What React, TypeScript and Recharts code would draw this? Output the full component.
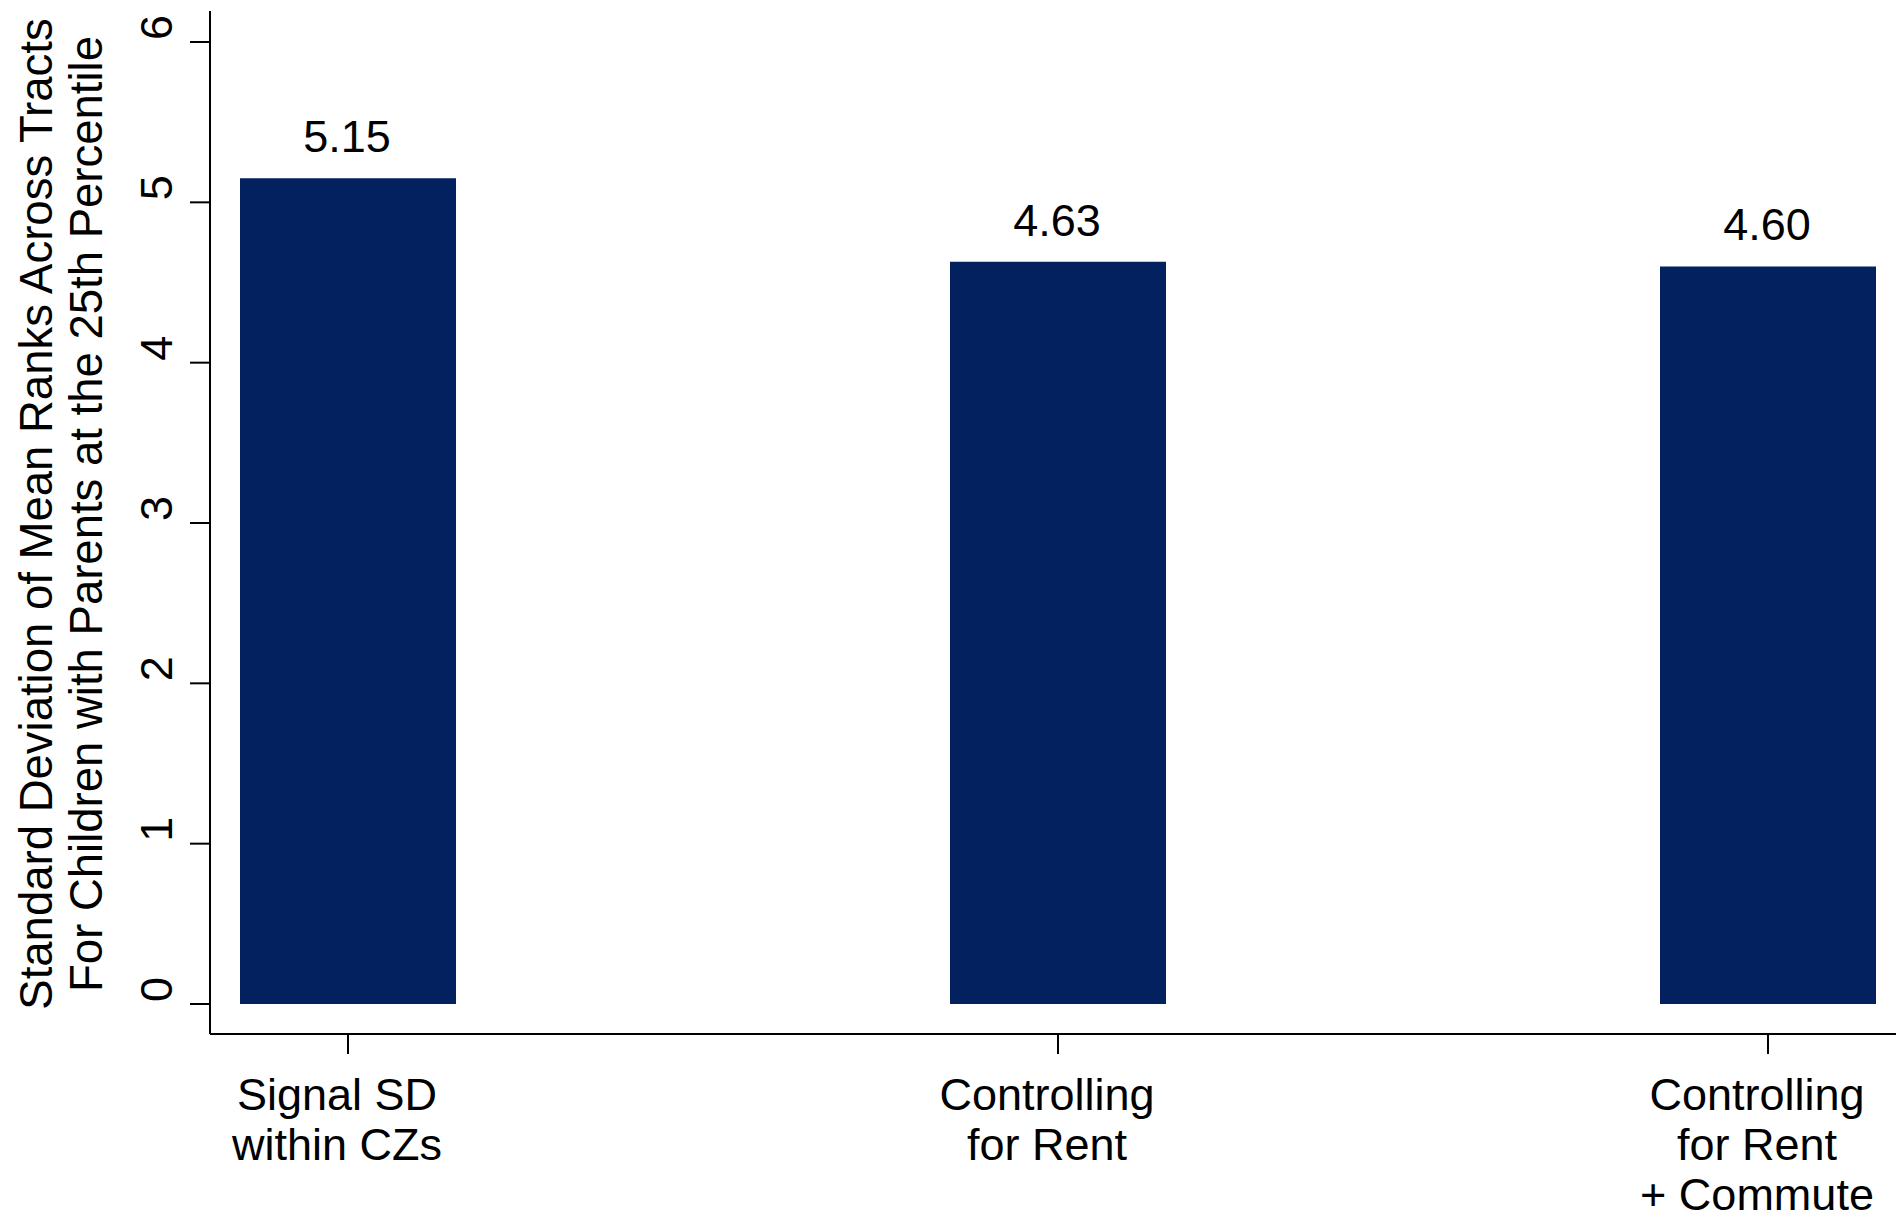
import { BarChart, Bar, XAxis, YAxis, LabelList } from 'recharts';

const categories = [
  ['Signal SD', 'within CZs'],
  ['Controlling', 'for Rent'],
  ['Controlling', 'for Rent', '+ Commute'],
];
const values = [5.15, 4.63, 4.6];
const valueLabels = ['5.15', '4.63', '4.60'];
const yTicks = [0, 1, 2, 3, 4, 5, 6];
const yTitle = [
  'Standard Deviation of Mean Ranks Across Tracts',
  'For Children with Parents at the 25th Percentile',
];

const data = categories.map((lines, i) => ({
  pos: i,
  lines,
  value: values[i],
  label: valueLabels[i],
}));

const FONT = '"Liberation Sans", Arial, sans-serif';
const NAVY = '#03215f';

function XTick(props: any) {
  const { x, y, payload } = props;
  const lines = categories[payload.value] || [];
  return (
    <g>
      {lines.map((t, i) => (
        <text
          key={i}
          x={x - 11}
          y={y + 54 + i * 50}
          textAnchor="middle"
          fontFamily={FONT}
          fontSize={45}
          fill="#000"
        >
          {t}
        </text>
      ))}
    </g>
  );
}

function YTick(props: any) {
  const { x, y, payload } = props;
  const bx = x - 16;
  const by = y - 2;
  return (
    <text
      x={bx}
      y={by}
      transform={`rotate(-90, ${bx}, ${by})`}
      textAnchor="start"
      fontFamily={FONT}
      fontSize={45}
      fill="#000"
    >
      {payload.value}
    </text>
  );
}

function BarValue(props: any) {
  const { x, y, width, index } = props;
  return (
    <text
      x={x + width / 2 - 1}
      y={y - 26}
      textAnchor="middle"
      fontFamily={FONT}
      fontSize={45}
      fill="#000"
    >
      {data[index].label}
    </text>
  );
}

function YTitle() {
  const cy = 514;
  return (
    <g>
      {yTitle.map((t, i) => {
        const bx = 52 + i * 50;
        return (
          <text
            key={i}
            x={bx}
            y={cy}
            transform={`rotate(-90, ${bx}, ${cy})`}
            textAnchor="middle"
            fontFamily={FONT}
            fontSize={45.5}
            fill="#000"
          >
            {t}
          </text>
        );
      })}
    </g>
  );
}

export default function App() {
  return (
    <div style={{ position: 'absolute', left: 0, top: 0, background: '#fff' }}>
      <BarChart
        width={1896}
        height={1218}
        data={data}
        margin={{ top: 11, right: 0, bottom: 0, left: 0 }}
      >
        <XAxis
          type="number"
          dataKey="pos"
          domain={[-138 / 710, 2 + 128 / 710]}
          allowDataOverflow
          ticks={[0, 1, 2]}
          interval={0}
          height={184}
          tickSize={20}
          axisLine={{ stroke: '#000', strokeWidth: 2 }}
          tickLine={{ stroke: '#000', strokeWidth: 2 }}
          tick={<XTick />}
        />
        <YAxis
          type="number"
          domain={[-30 / 160.333, 6 + 31 / 160.333]}
          allowDataOverflow
          ticks={yTicks}
          interval={0}
          width={210}
          tickSize={20}
          axisLine={{ stroke: '#000', strokeWidth: 2 }}
          tickLine={{ stroke: '#000', strokeWidth: 2 }}
          tick={<YTick />}
          label={<YTitle />}
        />
        <Bar dataKey="value" fill={NAVY} barSize={216} isAnimationActive={false}>
          <LabelList dataKey="value" content={<BarValue />} />
        </Bar>
      </BarChart>
    </div>
  );
}
